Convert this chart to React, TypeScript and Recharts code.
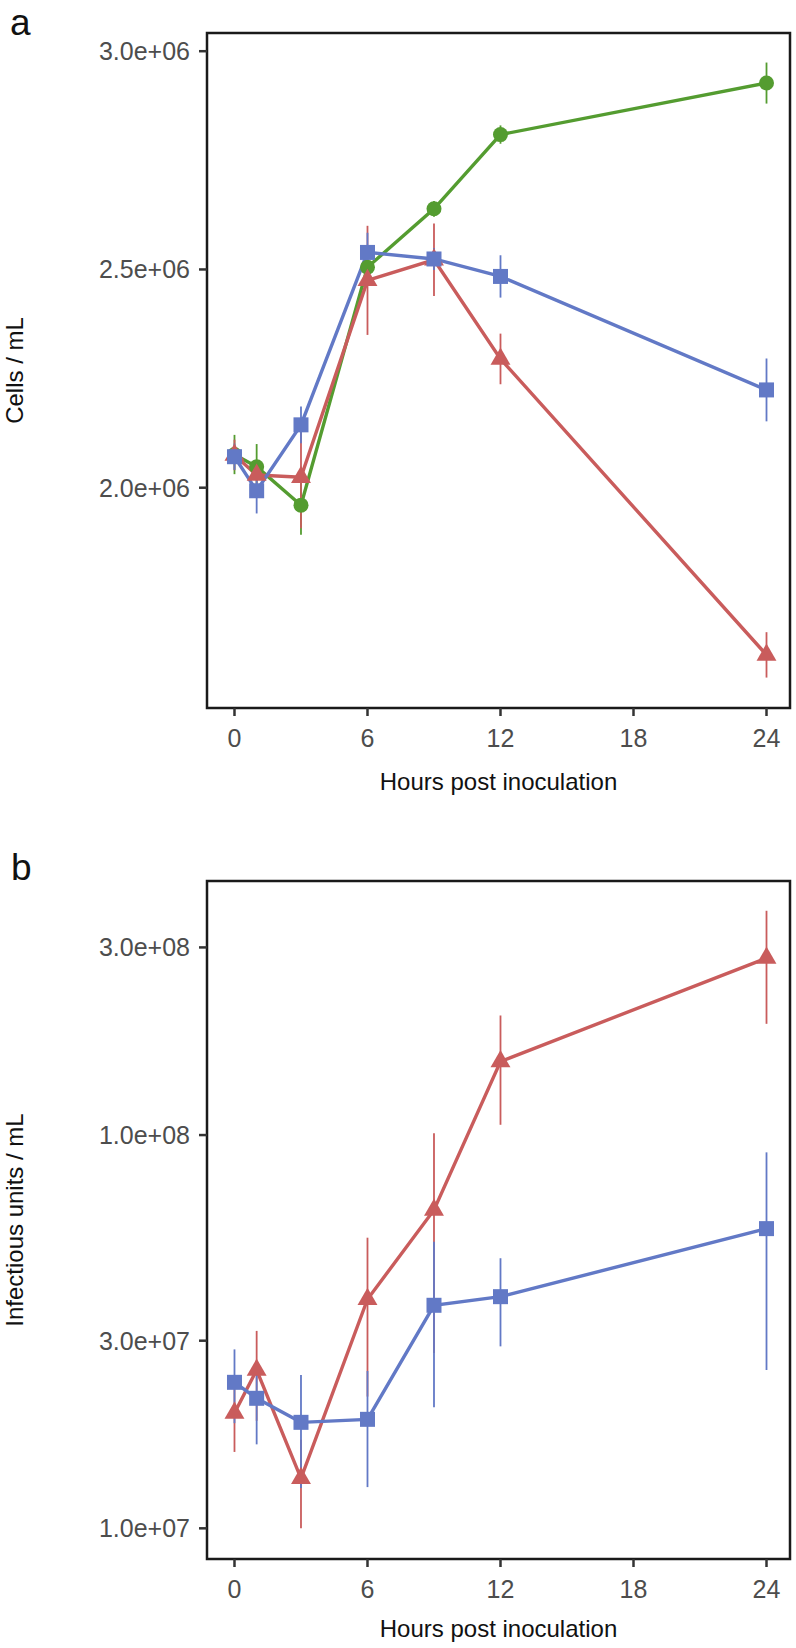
import { ComposedChart, Line, XAxis, YAxis, ErrorBar, ReferenceArea } from 'recharts';

// sampling times (hours post inoculation)
const hours = [0, 1, 3, 6, 9, 12, 24];
const hourTicks = [0, 6, 12, 18, 24];
const hourDomain: [number, number] = [-1.24, 25.06];

// panel a: cells / mL (mean and error)
const cellsGreen = [2.076e6, 2.048e6, 1.96e6, 2.505e6, 2.639e6, 2.809e6, 2.927e6];
const cellsGreenErr = [0.045e6, 0.052e6, 0.068e6, 0.03e6, 0.018e6, 0.021e6, 0.047e6];
const cellsRed = [2.075e6, 2.029e6, 2.024e6, 2.475e6, 2.522e6, 2.295e6, 1.617e6];
const cellsRedErr = [0.035e6, 0.03e6, 0.117e6, 0.125e6, 0.083e6, 0.058e6, 0.052e6];
const cellsBlue = [2.071e6, 1.993e6, 2.144e6, 2.539e6, 2.524e6, 2.484e6, 2.224e6];
const cellsBlueErr = [0.03e6, 0.052e6, 0.042e6, 0.045e6, 0.025e6, 0.0485e6, 0.072e6];
const cellTicks = [2.0e6, 2.5e6, 3.0e6];
const cellDomain: [number, number] = [1.4953e6, 3.0417e6];

// panel b: infectious units / mL (mean and error)
const iuRed = [1.964e7, 2.527e7, 1.34e7, 3.823e7, 6.45e7, 1.538e8, 2.818e8];
const iuRedErr = [4.0e6, 6.5e6, 3.4e6, 1.66e7, 3.66e7, 4.76e7, 9.0e7];
const iuBlue = [2.351e7, 2.141e7, 1.86e7, 1.893e7, 3.691e7, 3.882e7, 5.782e7];
const iuBlueErr = [5.0e6, 5.06e6, 5.94e6, 6.2e6, 1.66e7, 9.8e6, 3.255e7];
const iuTicks = [1e7, 3e7, 1e8, 3e8];
const iuDomain: [number, number] = [8.356e6, 4.426e8];

const GREEN = '#549c30';
const RED = '#c95c5c';
const BLUE = '#6279c6';
const FONT = '"Liberation Sans", Arial, Helvetica, sans-serif';
const TICK_TEXT = '#4d4d4d';

const cellRows = hours.map((hour, i) => ({
  hour,
  green: cellsGreen[i],
  greenErr: cellsGreenErr[i],
  red: cellsRed[i],
  redErr: cellsRedErr[i],
  blue: cellsBlue[i],
  blueErr: cellsBlueErr[i],
}));

const iuRows = hours.map((hour, i) => ({
  hour,
  red: iuRed[i],
  redErr: iuRedErr[i],
  blue: iuBlue[i],
  blueErr: iuBlueErr[i],
}));

// 3.0e+06 style labels
const sci = (v: number) => {
  const [m, e] = v.toExponential(1).split('e');
  return `${m}e${e[0]}${e.slice(1).padStart(2, '0')}`;
};

const square = (color: string) => (p: any) =>
  p.cx == null ? <g key={p.index} /> : (
    <rect key={p.index} x={p.cx - 7.5} y={p.cy - 7.5} width={15} height={15} fill={color} />
  );

const circle = (color: string) => (p: any) =>
  p.cx == null ? <g key={p.index} /> : <circle key={p.index} cx={p.cx} cy={p.cy} r={7.5} fill={color} />;

// centroid-centred triangle
const triangle = (color: string) => (p: any) => {
  if (p.cx == null) return <g key={p.index} />;
  const r = 11.5;
  const hx = r * 0.866;
  const pts = `${p.cx},${p.cy - r} ${p.cx + hx},${p.cy + r / 2} ${p.cx - hx},${p.cy + r / 2}`;
  return <polygon key={p.index} points={pts} fill={color} />;
};

const tickLine = { stroke: '#333', strokeWidth: 2.5 };
const tickFont = { fontSize: 25, fill: TICK_TEXT, fontFamily: FONT };

function series(key: string, color: string, dot: (p: any) => any) {
  return (
    <Line
      key={key}
      dataKey={key}
      type="linear"
      stroke={color}
      strokeWidth={3.4}
      dot={dot}
      activeDot={false}
      isAnimationActive={false}
    >
      <ErrorBar dataKey={`${key}Err`} direction="y" width={0} stroke={color} strokeWidth={1.8} isAnimationActive={false} />
    </Line>
  );
}

function xAxis(offset: number) {
  return (
    <XAxis
      type="number"
      dataKey="hour"
      domain={hourDomain}
      ticks={hourTicks}
      allowDataOverflow
      axisLine={false}
      tickLine={tickLine}
      tickSize={8}
      tickMargin={13}
      tick={tickFont}
      height={85}
      label={{ value: 'Hours post inoculation', position: 'insideBottom', offset, fontSize: 24, fill: '#111', fontFamily: FONT }}
    />
  );
}

function frame(domain: [number, number]) {
  return (
    <ReferenceArea
      x1={hourDomain[0]}
      x2={hourDomain[1]}
      y1={domain[0]}
      y2={domain[1]}
      fill="none"
      fillOpacity={0}
      stroke="#1a1a1a"
      strokeWidth={2.5}
      ifOverflow="visible"
    />
  );
}

export default function App() {
  return (
    <div style={{ position: 'absolute', left: 0, top: 0, width: 796, height: 1648, background: '#fff', fontFamily: FONT }}>
      <svg width={796} height={1648} style={{ position: 'absolute', left: 0, top: 0, pointerEvents: 'none' }}>
        <text x={10} y={35} fontSize={37} fontFamily={FONT} fill="#111">a</text>
        <text x={11} y={880} fontSize={37} fontFamily={FONT} fill="#111">b</text>
      </svg>

      <ComposedChart width={796} height={824} data={cellRows} margin={{ top: 33, right: 6, bottom: 31, left: 0 }}>
        {xAxis(3)}
        <YAxis
          type="number"
          domain={cellDomain}
          ticks={cellTicks}
          tickFormatter={sci}
          allowDataOverflow
          axisLine={false}
          tickLine={tickLine}
          tickSize={8}
          tickMargin={9}
          tick={tickFont}
          width={207}
          label={{ value: 'Cells / mL', angle: -90, position: 'insideLeft', offset: 14, fontSize: 24, fill: '#111', fontFamily: FONT, style: { textAnchor: 'middle' } }}
        />
        {frame(cellDomain)}
        {series('green', GREEN, circle(GREEN))}
        {series('red', RED, triangle(RED))}
        {series('blue', BLUE, square(BLUE))}
      </ComposedChart>

      <ComposedChart width={796} height={824} data={iuRows} margin={{ top: 57, right: 6, bottom: 4, left: 0 }}>
        {xAxis(7)}
        <YAxis
          type="number"
          scale="log"
          domain={iuDomain}
          ticks={iuTicks}
          tickFormatter={sci}
          allowDataOverflow
          axisLine={false}
          tickLine={tickLine}
          tickSize={8}
          tickMargin={9}
          tick={tickFont}
          width={207}
          label={{ value: 'Infectious units / mL', angle: -90, position: 'insideLeft', offset: 14, fontSize: 24, fill: '#111', fontFamily: FONT, style: { textAnchor: 'middle' } }}
        />
        {frame(iuDomain)}
        {series('red', RED, triangle(RED))}
        {series('blue', BLUE, square(BLUE))}
      </ComposedChart>
    </div>
  );
}
